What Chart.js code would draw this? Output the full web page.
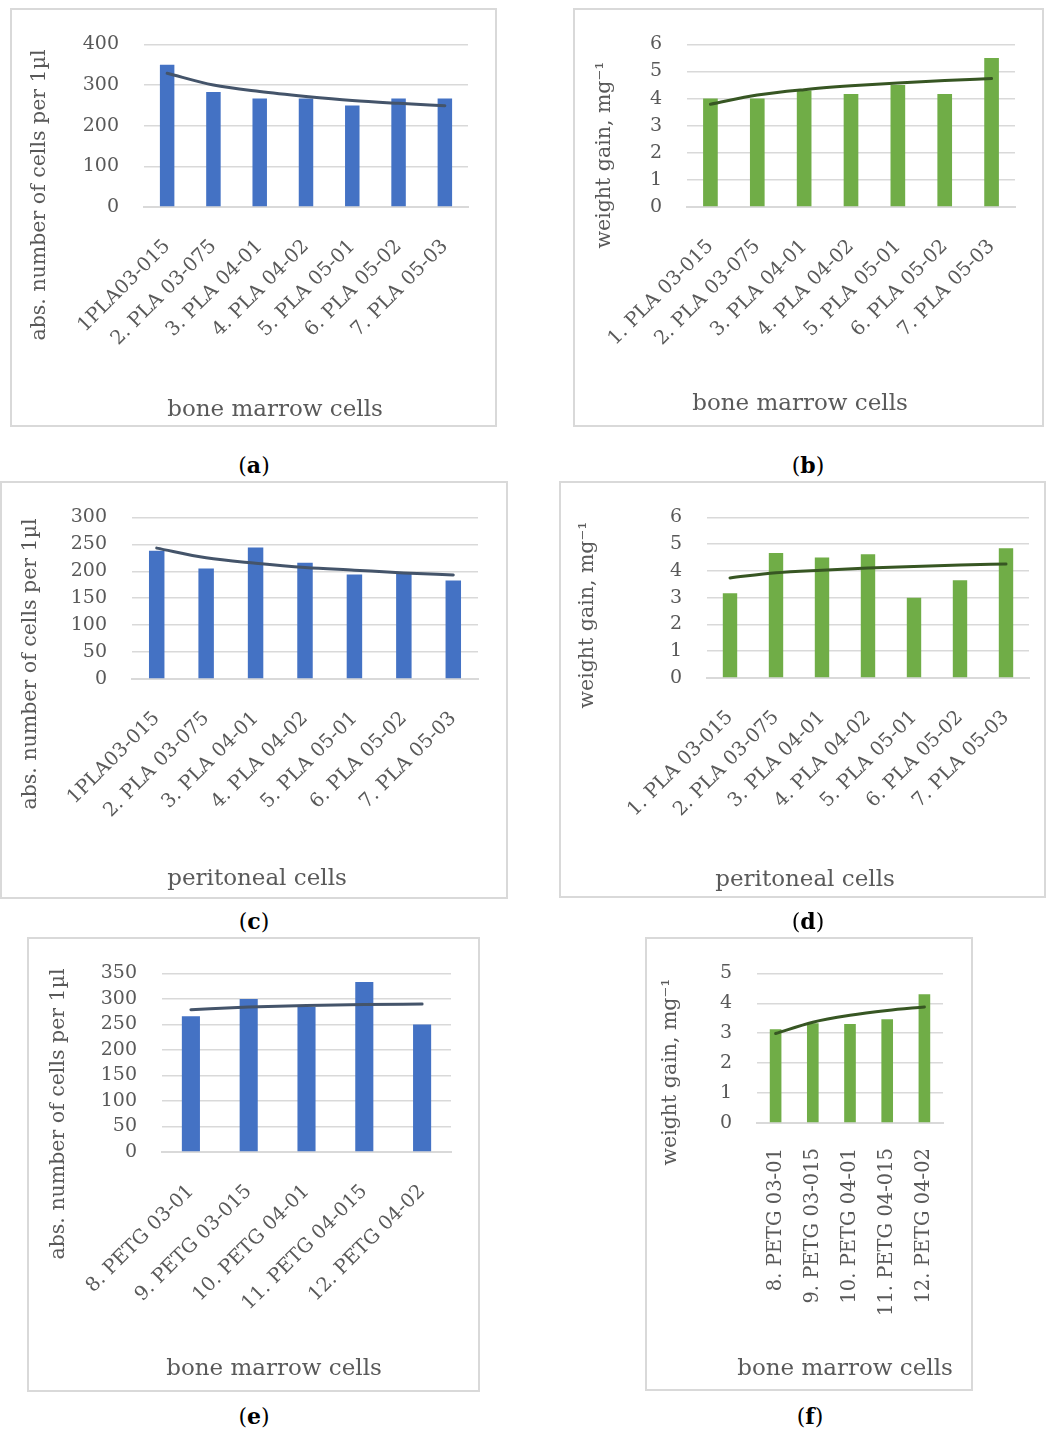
<!DOCTYPE html>
<html>
<head>
<meta charset="utf-8">
<title>Bone marrow / peritoneal cells vs weight gain</title>
<script src="https://cdn.jsdelivr.net/npm/chart.js@4.4.1/dist/chart.umd.min.js"></script>
<style>
  html, body { margin: 0; padding: 0; background: #fff; }
  body { position: relative; width: 1046px; height: 1430px; overflow: hidden; font-family: 'DejaVu Serif', serif; }
  .panel { position: absolute; }
  .panel canvas { position: absolute; left: 0; top: 0; }
  .frame { position: absolute; left: 0; top: 0; right: 0; bottom: 0; border: 2px solid #d9d9d9; box-sizing: border-box; pointer-events: none; }
  .cap { position: absolute; width: 80px; margin-left: -40px; text-align: center; font-size: 22px; line-height: 26px; color: #000; }
</style>
</head>
<body>

<div class="panel" style="left:10px;top:8px;width:487px;height:419px"><canvas id="chart-a" width="487" height="419"></canvas><div class="frame"></div></div>
<div class="panel" style="left:573px;top:8px;width:471px;height:419px"><canvas id="chart-b" width="471" height="419"></canvas><div class="frame"></div></div>
<div class="panel" style="left:0px;top:481px;width:508px;height:418px"><canvas id="chart-c" width="508" height="418"></canvas><div class="frame"></div></div>
<div class="panel" style="left:559px;top:481px;width:487px;height:417px"><canvas id="chart-d" width="487" height="417"></canvas><div class="frame"></div></div>
<div class="panel" style="left:27px;top:937px;width:453px;height:455px"><canvas id="chart-e" width="453" height="455"></canvas><div class="frame"></div></div>
<div class="panel" style="left:645px;top:937px;width:328px;height:454px"><canvas id="chart-f" width="328" height="454"></canvas><div class="frame"></div></div>

<div class="cap" style="left:254px;top:452px">(<b>a</b>)</div>
<div class="cap" style="left:808px;top:452px">(<b>b</b>)</div>
<div class="cap" style="left:254px;top:908px">(<b>c</b>)</div>
<div class="cap" style="left:808px;top:908px">(<b>d</b>)</div>
<div class="cap" style="left:254px;top:1403px">(<b>e</b>)</div>
<div class="cap" style="left:810px;top:1403px">(<b>f</b>)</div>

<script>
// ─────────────────────────────────────────────────────────────
//  Data
// ─────────────────────────────────────────────────────────────
var PLA_LABELS_SHORT = ['1PLA03-015', '2. PLA 03-075', '3. PLA 04-01', '4. PLA 04-02',
                        '5. PLA 05-01', '6. PLA 05-02', '7. PLA 05-03'];
var PLA_LABELS = ['1. PLA 03-015', '2. PLA 03-075', '3. PLA 04-01', '4. PLA 04-02',
                  '5. PLA 05-01', '6. PLA 05-02', '7. PLA 05-03'];
var PETG_LABELS = ['8. PETG 03-01', '9. PETG 03-015', '10. PETG 04-01', '11. PETG 04-015', '12. PETG 04-02'];

// (a) bone marrow cells, PLA
var BM_PLA_CELLS   = [350, 283, 267, 267, 250, 267, 267];
var BM_PLA_CELLS_T = [329, 300, 284, 272, 262, 255, 249];
// (b) bone marrow, PLA weight gain
var BM_PLA_GAIN    = [4.0, 4.0, 4.3, 4.17, 4.5, 4.17, 5.5];
var BM_PLA_GAIN_T  = [3.79, 4.13, 4.33, 4.47, 4.58, 4.67, 4.74];
// (c) peritoneal cells, PLA
var PT_PLA_CELLS   = [238, 205, 244, 216, 194, 196, 183];
var PT_PLA_CELLS_T = [243, 225, 215, 207, 202, 197, 193];
// (d) peritoneal, PLA weight gain
var PT_PLA_GAIN    = [3.17, 4.67, 4.5, 4.62, 3.0, 3.65, 4.85];
var PT_PLA_GAIN_T  = [3.74, 3.93, 4.03, 4.11, 4.17, 4.22, 4.26];
// (e) bone marrow cells, PETG
var BM_PETG_CELLS   = [266, 300, 284, 333, 250];
var BM_PETG_CELLS_T = [279, 284, 287, 289, 290];
// (f) bone marrow, PETG weight gain
var BM_PETG_GAIN    = [3.13, 3.33, 3.31, 3.47, 4.3];
var BM_PETG_GAIN_T  = [2.99, 3.37, 3.60, 3.76, 3.88];

// ─────────────────────────────────────────────────────────────
//  Style
// ─────────────────────────────────────────────────────────────
var FONT = "'DejaVu Serif', serif";
var TEXT = '#595959';
var GRID = '#d9d9d9';
var BLUE = '#4472c4', BLUE_LINE = '#44546a';
var GREEN = '#70ad47', GREEN_LINE = '#375623';
var CELLS_TITLE = 'abs. number of cells per 1\u00b5l';
var GAIN_TITLE = 'weight gain, mg\u207b\u00b9';

function $(id) { return document.getElementById(id); }

// axis titles drawn at fixed spots, like the Excel originals
var axisTitles = {
  id: 'axisTitles',
  afterDraw: function (chart, args, o) {
    var ctx = chart.ctx;
    ctx.save();
    ctx.fillStyle = TEXT;
    ctx.textAlign = 'center';
    ctx.textBaseline = 'middle';
    ctx.font = '20.5px ' + FONT;
    ctx.translate(o.yX, o.yY);
    ctx.rotate(-Math.PI / 2);
    ctx.fillText(o.yText, 0, 0);
    ctx.restore();

    ctx.save();
    ctx.fillStyle = TEXT;
    ctx.textAlign = 'center';
    ctx.textBaseline = 'alphabetic';
    ctx.font = '23px ' + FONT;
    ctx.fillText(o.xText, o.xX, o.xY);
    ctx.restore();
  }
};

function buildPanel(id, p) {
  return new Chart($(id), {
    type: 'bar',
    data: {
      labels: p.labels,
      datasets: [
        {
          type: 'line',
          data: p.trend,
          borderColor: p.lineColor,
          borderWidth: 3,
          borderCapStyle: 'round',
          pointRadius: 0,
          fill: false,
          cubicInterpolationMode: 'monotone',
          order: 0
        },
        {
          data: p.values,
          backgroundColor: p.barColor,
          barPercentage: 0.313,
          categoryPercentage: 1,
          order: 1
        }
      ]
    },
    options: {
      responsive: false,
      animation: false,
      layout: { padding: { left: 0, bottom: 0, top: p.top, right: p.right } },
      plugins: {
        legend: { display: false },
        tooltip: { enabled: false },
        axisTitles: { yText: p.yTitle, yX: p.yX, yY: p.yY, xText: p.xTitle, xX: p.xX, xY: p.xY }
      },
      scales: {
        x: {
          grid: { display: false },
          border: { display: true, color: GRID, width: 2 },
          ticks: {
            color: TEXT, font: { family: FONT, size: 19.5 },
            minRotation: p.rot, maxRotation: p.rot, autoSkip: false, padding: p.xPad
          },
          afterFit: function (s) { s.height = p.xHeight; }
        },
        y: {
          min: 0, max: p.max,
          grid: { color: GRID, lineWidth: 1.5, drawTicks: false },
          border: { display: false },
          ticks: { stepSize: p.step, autoSkip: false, color: TEXT, font: { family: FONT, size: 19 }, padding: 25 },
          afterFit: function (s) { s.width = p.yWidth; }
        }
      }
    },
    plugins: [axisTitles]
  });
}

// ─────────────────────────────────────────────────────────────
//  Panels
// ─────────────────────────────────────────────────────────────
buildPanel('chart-a', {
  labels: PLA_LABELS_SHORT, values: BM_PLA_CELLS, trend: BM_PLA_CELLS_T,
  barColor: BLUE, lineColor: BLUE_LINE, max: 400, step: 100,
  top: 30, right: 29, yWidth: 134, xHeight: 220, rot: 45, xPad: 20,
  yTitle: CELLS_TITLE, yX: 30, yY: 187, xTitle: 'bone marrow cells', xX: 265, xY: 408
});

buildPanel('chart-b', {
  labels: PLA_LABELS, values: BM_PLA_GAIN, trend: BM_PLA_GAIN_T,
  barColor: GREEN, lineColor: GREEN_LINE, max: 6, step: 1,
  top: 30, right: 29, yWidth: 114, xHeight: 220, rot: 45, xPad: 20,
  yTitle: GAIN_TITLE, yX: 32, yY: 147, xTitle: 'bone marrow cells', xX: 227, xY: 402
});

buildPanel('chart-c', {
  labels: PLA_LABELS_SHORT, values: PT_PLA_CELLS, trend: PT_PLA_CELLS_T,
  barColor: BLUE, lineColor: BLUE_LINE, max: 300, step: 50,
  top: 29, right: 30, yWidth: 132, xHeight: 220, rot: 45, xPad: 20,
  yTitle: CELLS_TITLE, yX: 31, yY: 183, xTitle: 'peritoneal cells', xX: 257, xY: 404
});

buildPanel('chart-d', {
  labels: PLA_LABELS, values: PT_PLA_GAIN, trend: PT_PLA_GAIN_T,
  barColor: GREEN, lineColor: GREEN_LINE, max: 6, step: 1,
  top: 29, right: 17, yWidth: 148, xHeight: 220, rot: 45, xPad: 20,
  yTitle: GAIN_TITLE, yX: 29, yY: 134, xTitle: 'peritoneal cells', xX: 246, xY: 405
});

buildPanel('chart-e', {
  labels: PETG_LABELS, values: BM_PETG_CELLS, trend: BM_PETG_CELLS_T,
  barColor: BLUE, lineColor: BLUE_LINE, max: 350, step: 50,
  top: 29, right: 29, yWidth: 135, xHeight: 240, rot: 45, xPad: 20,
  yTitle: CELLS_TITLE, yX: 32, yY: 177, xTitle: 'bone marrow cells', xX: 247, xY: 438
});

buildPanel('chart-f', {
  labels: PETG_LABELS, values: BM_PETG_GAIN, trend: BM_PETG_GAIN_T,
  barColor: GREEN, lineColor: GREEN_LINE, max: 5, step: 1,
  top: 29, right: 30, yWidth: 112, xHeight: 268, rot: 90, xPad: 17,
  yTitle: GAIN_TITLE, yX: 26, yY: 135, xTitle: 'bone marrow cells', xX: 200, xY: 438
});
</script>
</body>
</html>
